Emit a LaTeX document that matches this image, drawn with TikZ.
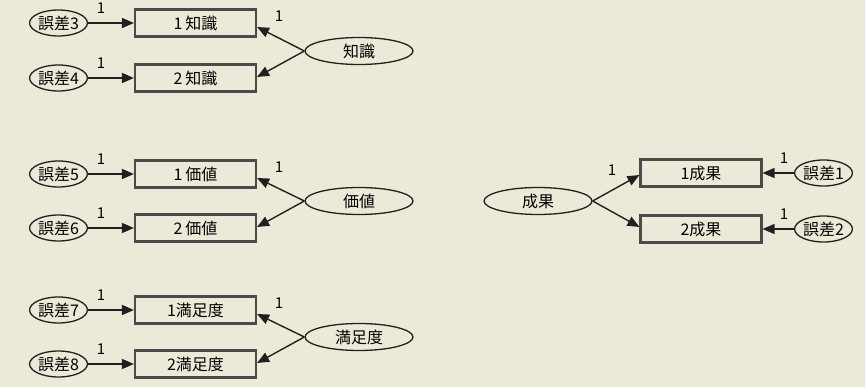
\documentclass[tikz,border=0pt]{standalone}
\usepackage{fontspec}
\setmainfont{Noto Sans CJK JP}
\usetikzlibrary{shapes.geometric,arrows.meta,calc}
\definecolor{bg}{HTML}{ECE9D8}
\definecolor{edge}{HTML}{4A4A4A}
\definecolor{ink}{HTML}{202020}
\tikzstyle{obs} = [draw=edge, line width=2.1pt, minimum width=121pt, minimum height=27pt, inner sep=0pt, font=\fontsize{16}{16}\selectfont]
\tikzstyle{lat} = [ellipse, draw=ink, line width=1.3pt, minimum width=108pt, minimum height=27pt, inner sep=0pt, font=\fontsize{16}{16}\selectfont]
\tikzstyle{err} = [ellipse, draw=ink, line width=1.3pt, minimum width=57pt, minimum height=26pt, inner sep=0pt, font=\fontsize{16}{16}\selectfont]
\tikzstyle{arr} = [-{Triangle[length=12pt,width=10pt]}, draw=ink, line width=1.4pt]
\tikzstyle{one} = [inner sep=0pt, font=\fontsize{15}{15}\selectfont]

\begin{document}
\begin{tikzpicture}[x=1pt, y=-1pt]
	\fill[bg] (0,0) rectangle (865,387);
	% 知識
	\node[obs] (k1) at (195.5,23) {1\,知識};
	\node[obs] (k2) at (195.5,78) {2\,知識};
	\node[lat] (k) at (359,51) {知識};
	\node[err] (e3) at (58.5,23) {誤差3};
	\node[err] (e4) at (58.5,78) {誤差4};
	\draw[arr] (e3) -- (k1);
	\draw[arr] (e4) -- (k2);
	\draw[arr] (k.west) -- ($(k1.east)+(0,4)$);
	\draw[arr] (k.west) -- ($(k2.east)+(0,-1)$);
	\node[one] (o3) at (101,8) {1};
	\node[one] (o4) at (101,63) {1};
	\node[one] (ok) at (279,16) {1};
	% 価値
	\node[obs] (v1) at (195.5,174) {1\,価値};
	\node[obs] (v2) at (195.5,228) {2\,価値};
	\node[lat] (v) at (359,201) {価値};
	\node[err] (e5) at (58.5,174) {誤差5};
	\node[err] (e6) at (58.5,228) {誤差6};
	\draw[arr] (e5) -- (v1);
	\draw[arr] (e6) -- (v2);
	\draw[arr] (v.west) -- ($(v1.east)+(0,4)$);
	\draw[arr] (v.west) -- ($(v2.east)+(0,-1)$);
	\node[one] (o5) at (101,159) {1};
	\node[one] (o6) at (101,213) {1};
	\node[one] (ov) at (279,167) {1};
	% 満足度
	\node[obs] (s1) at (195.5,310) {1満足度};
	\node[obs] (s2) at (195.5,364) {2満足度};
	\node[lat] (s) at (359,337) {満足度};
	\node[err] (e7) at (58.5,310) {誤差7};
	\node[err] (e8) at (58.5,364) {誤差8};
	\draw[arr] (e7) -- (s1);
	\draw[arr] (e8) -- (s2);
	\draw[arr] (s.west) -- ($(s1.east)+(0,4)$);
	\draw[arr] (s.west) -- ($(s2.east)+(0,-1)$);
	\node[one] (o7) at (101,295) {1};
	\node[one] (o8) at (101,349) {1};
	\node[one] (os) at (279,303) {1};
	% 成果
	\node[lat] (r) at (538,201) {成果};
	\node[obs] (r1) at (701,173) {1成果};
	\node[obs] (r2) at (701,229) {2成果};
	\node[err] (e1) at (823.5,173) {誤差1};
	\node[err] (e2) at (823.5,229) {誤差2};
	\draw[arr] (r.east) -- ($(r1.west)+(0,2)$);
	\draw[arr] (r.east) -- ($(r2.west)+(0,-2)$);
	\draw[arr] (e1) -- (r1);
	\draw[arr] (e2) -- (r2);
	\node[one] (or) at (612,170) {1};
	\node[one] (o1) at (784,158) {1};
	\node[one] (o2) at (784,214) {1};
\end{tikzpicture}
\end{document}
